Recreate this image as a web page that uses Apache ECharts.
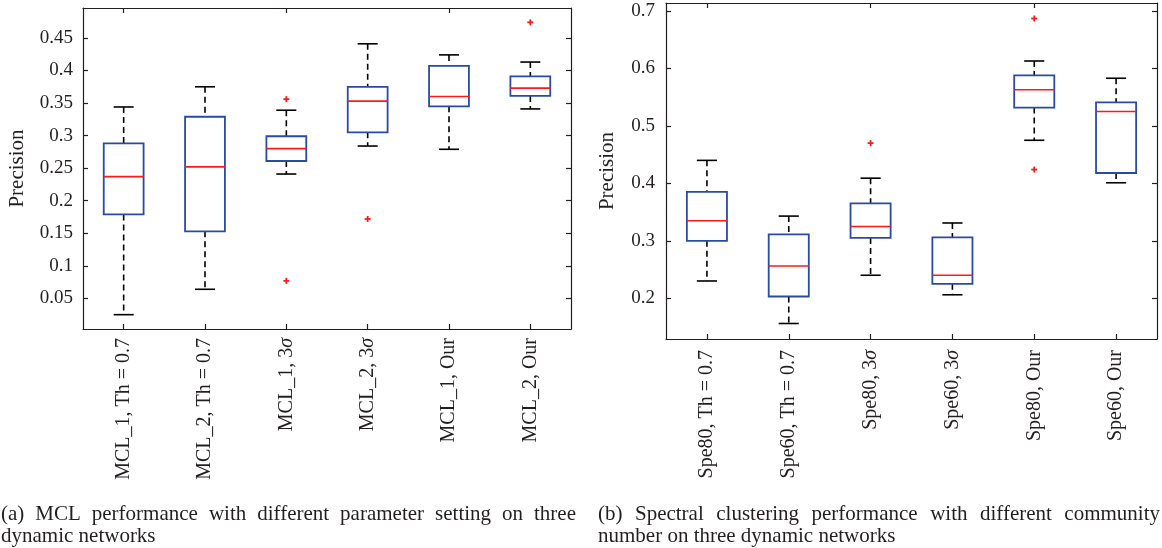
<!DOCTYPE html>
<html><head><meta charset="utf-8">
<script src="https://cdn.jsdelivr.net/npm/echarts@6/dist/echarts.min.js"></script>
<style>html,body{margin:0;padding:0;background:#fff}#c{width:1162px;height:548px}</style>
</head><body><div id="c"></div>
<script>
// ---------- data ----------
const leftCategories = ['MCL_1, Th = 0.7', 'MCL_2, Th = 0.7', 'MCL_1, 3σ', 'MCL_2, 3σ', 'MCL_1, Our', 'MCL_2, Our'];
const leftLow    = [0.025, 0.064, 0.241, 0.284, 0.279, 0.341];
const leftQ1     = [0.179, 0.153, 0.261, 0.305, 0.345, 0.361];
const leftMedian = [0.237, 0.252, 0.280, 0.353, 0.360, 0.373];
const leftQ3     = [0.288, 0.329, 0.299, 0.375, 0.407, 0.391];
const leftHigh   = [0.344, 0.375, 0.339, 0.441, 0.424, 0.413];
const leftOutlierIndex = [2, 2, 3, 5];
const leftOutlierValue = [0.356, 0.077, 0.172, 0.474];
const leftTicks = [0.05, 0.1, 0.15, 0.2, 0.25, 0.3, 0.35, 0.4, 0.45];

const rightCategories = ['Spe80, Th = 0.7', 'Spe60, Th = 0.7', 'Spe80, 3σ', 'Spe60, 3σ', 'Spe80, Our', 'Spe60, Our'];
const rightLow    = [0.230, 0.156, 0.240, 0.206, 0.475, 0.401];
const rightQ1     = [0.300, 0.203, 0.305, 0.225, 0.532, 0.418];
const rightMedian = [0.335, 0.256, 0.325, 0.240, 0.563, 0.525];
const rightQ3     = [0.385, 0.311, 0.365, 0.306, 0.588, 0.541];
const rightHigh   = [0.440, 0.343, 0.409, 0.331, 0.613, 0.583];
const rightOutlierIndex = [2, 4, 4];
const rightOutlierValue = [0.470, 0.687, 0.424];
const rightTicks = [0.2, 0.3, 0.4, 0.5, 0.6, 0.7];

const yName = 'Precision';
const captionA1 = '(a) MCL performance with different parameter setting on three';
const captionA2 = 'dynamic networks';
const captionB1 = '(b) Spectral clustering performance with different community';
const captionB2 = 'number on three dynamic networks';

// ---------- styling ----------
const FONT = "'Liberation Serif', 'Times New Roman', serif";
const TXT = '#231f20';
const AX = '#231f20';
const BLUE = '#2a4ba3';
const RED = '#ff1a1a';

const chart = echarts.init(document.getElementById('c'));

function boxData(low, q1, med, q3, high) {
  return low.map((v, i) => [i, low[i], q1[i], med[i], q3[i], high[i]]);
}
function outlierData(idx, val) {
  return idx.map((k, i) => [k, val[i]]);
}

function boxRender(params, api) {
  const i = api.value(0);
  const band = api.size([1, 0])[0];
  const x = api.coord([i, api.value(3)])[0];
  const yLow = api.coord([i, api.value(1)])[1];
  const yQ1 = api.coord([i, api.value(2)])[1];
  const yMed = api.coord([i, api.value(3)])[1];
  const yQ3 = api.coord([i, api.value(4)])[1];
  const yHigh = api.coord([i, api.value(5)])[1];
  const bh = band * 0.245, ch = band * 0.123;
  const dash = { stroke: '#000', lineWidth: 1.6, lineDash: [6, 4] };
  const solid = { stroke: '#000', lineWidth: 1.6 };
  return {
    type: 'group',
    children: [
      { type: 'line', shape: { x1: x, y1: yHigh, x2: x, y2: yQ3 }, style: dash },
      { type: 'line', shape: { x1: x, y1: yQ1, x2: x, y2: yLow }, style: dash },
      { type: 'line', shape: { x1: x - ch, y1: yHigh, x2: x + ch, y2: yHigh }, style: solid },
      { type: 'line', shape: { x1: x - ch, y1: yLow, x2: x + ch, y2: yLow }, style: solid },
      { type: 'rect', shape: { x: x - bh, y: yQ3, width: 2 * bh, height: yQ1 - yQ3 },
        style: { fill: 'none', stroke: BLUE, lineWidth: 1.8 } },
      { type: 'line', shape: { x1: x - bh, y1: yMed, x2: x + bh, y2: yMed },
        style: { stroke: RED, lineWidth: 1.6 } }
    ]
  };
}

function plusRender(params, api) {
  const p = api.coord([api.value(0), api.value(1)]);
  const s = 3;
  const st = { stroke: RED, lineWidth: 1.8 };
  return {
    type: 'group',
    children: [
      { type: 'line', shape: { x1: p[0] - s, y1: p[1], x2: p[0] + s, y2: p[1] }, style: st },
      { type: 'line', shape: { x1: p[0], y1: p[1] - s, x2: p[0], y2: p[1] + s }, style: st }
    ]
  };
}

function catAxis(gi, cats, pos, margin) {
  return {
    type: 'category', gridIndex: gi, data: cats, position: pos, boundaryGap: true,
    axisLine: { show: true, onZero: false, lineStyle: { color: AX, width: 1.2 } },
    axisTick: { show: true, inside: true, alignWithLabel: true, length: 5, lineStyle: { color: AX, width: 1.2 } },
    axisLabel: pos === 'bottom' ? {
      show: true, rotate: 90, margin: margin, interval: 0,
      fontFamily: FONT, fontSize: 20, color: TXT,
      formatter: v => v.replace('σ', '{i|σ}'),
      rich: { i: { fontFamily: FONT, fontSize: 20, fontStyle: 'italic', color: TXT } }
    } : { show: false },
    splitLine: { show: false }
  };
}
function valAxis(gi, min, max, ticks, pos, margin, nameGap) {
  const a = {
    type: 'value', gridIndex: gi, min: min, max: max, position: pos,
    axisLine: { show: true, onZero: false, lineStyle: { color: AX, width: 1.2 } },
    axisTick: { show: true, inside: true, length: 5, customValues: ticks, lineStyle: { color: AX, width: 1.2 } },
    axisLabel: pos === 'left' ? {
      show: true, customValues: ticks, margin: margin,
      fontFamily: FONT, fontSize: 19, color: TXT
    } : { show: false },
    splitLine: { show: false }
  };
  if (pos === 'left') {
    a.name = yName;
    a.nameLocation = 'middle';
    a.nameGap = nameGap;
    a.nameTextStyle = { fontFamily: FONT, fontSize: 21, color: TXT };
  }
  return a;
}

// ---------- justified captions ----------
const mctx = document.createElement('canvas').getContext('2d');
function textEl(t, x, y, size) {
  return { type: 'text', x: x, y: y, silent: true,
    style: { text: t, fontFamily: FONT, fontSize: size, fill: TXT, textAlign: 'left', textVerticalAlign: 'middle' } };
}
function justified(text, x0, x1, y, size) {
  mctx.font = size + 'px ' + FONT;
  const words = text.split(' ');
  const w = words.map(s => mctx.measureText(s).width);
  const total = w.reduce((a, b) => a + b, 0);
  const gap = (x1 - x0 - total) / (words.length - 1);
  let x = x0;
  return words.map((s, k) => { const e = textEl(s, x, y, size); x += w[k] + gap; return e; });
}
const CAP = 21;
const graphics = [].concat(
  justified(captionA1, 1, 576, 514, CAP),
  [textEl(captionA2, 1, 536, CAP)],
  justified(captionB1, 598, 1160, 514, CAP),
  [textEl(captionB2, 598, 536, CAP)]
);

chart.setOption({
  animation: false,
  backgroundColor: '#fff',
  grid: [
    { left: 83, right: 1162 - 571, top: 8, bottom: 548 - 329, containLabel: false },
    { left: 666, right: 1162 - 1157, top: 3, bottom: 548 - 339, containLabel: false }
  ],
  xAxis: [
    catAxis(0, leftCategories, 'bottom', 9),
    catAxis(0, leftCategories, 'top', 0),
    catAxis(1, rightCategories, 'bottom', 11),
    catAxis(1, rightCategories, 'top', 0)
  ],
  yAxis: [
    valAxis(0, 0.003, 0.496, leftTicks, 'left', 10, 55),
    valAxis(0, 0.003, 0.496, leftTicks, 'right', 0, 0),
    valAxis(1, 0.129, 0.714, rightTicks, 'left', 11, 48),
    valAxis(1, 0.129, 0.714, rightTicks, 'right', 0, 0)
  ],
  series: [
    { type: 'custom', xAxisIndex: 0, yAxisIndex: 0, renderItem: boxRender,
      encode: { x: 0, y: [1, 2, 3, 4, 5] }, data: boxData(leftLow, leftQ1, leftMedian, leftQ3, leftHigh) },
    { type: 'custom', xAxisIndex: 0, yAxisIndex: 0, renderItem: plusRender,
      encode: { x: 0, y: 1 }, data: outlierData(leftOutlierIndex, leftOutlierValue) },
    { type: 'custom', xAxisIndex: 2, yAxisIndex: 2, renderItem: boxRender,
      encode: { x: 0, y: [1, 2, 3, 4, 5] }, data: boxData(rightLow, rightQ1, rightMedian, rightQ3, rightHigh) },
    { type: 'custom', xAxisIndex: 2, yAxisIndex: 2, renderItem: plusRender,
      encode: { x: 0, y: 1 }, data: outlierData(rightOutlierIndex, rightOutlierValue) }
  ],
  graphic: graphics
});
</script>
</body></html>
